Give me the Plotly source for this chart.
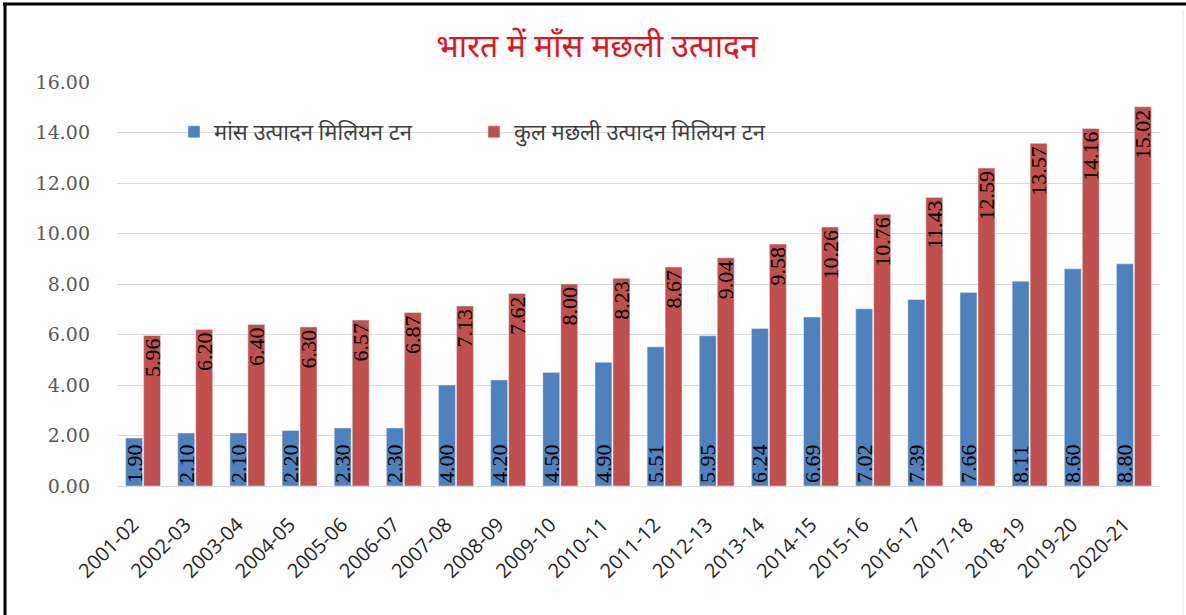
import plotly.graph_objects as go

years = ["2001-02", "2002-03", "2003-04", "2004-05", "2005-06", "2006-07", "2007-08",
         "2008-09", "2009-10", "2010-11", "2011-12", "2012-13", "2013-14", "2014-15",
         "2015-16", "2016-17", "2017-18", "2018-19", "2019-20", "2020-21"]
meat = [1.90, 2.10, 2.10, 2.20, 2.30, 2.30, 4.00, 4.20, 4.50, 4.90, 5.51, 5.95, 6.24,
        6.69, 7.02, 7.39, 7.66, 8.11, 8.60, 8.80]
fish = [5.96, 6.20, 6.40, 6.30, 6.57, 6.87, 7.13, 7.62, 8.00, 8.23, 8.67, 9.04, 9.58,
        10.26, 10.76, 11.43, 12.59, 13.57, 14.16, 15.02]
y_ticks = [0, 2, 4, 6, 8, 10, 12, 14, 16]

title_text = "भारत में माँस मछली उत्पादन"
meat_name = "मांस उत्पादन मिलियन टन"
fish_name = "कुल मछली उत्पादन मिलियन टन"

W, H = 1186, 615
L, R, T, B = 117, 26, 82, 129

label_font = dict(family="Liberation Serif", size=22, color="black")

fig = go.Figure()
fig.add_trace(go.Bar(
    x=years, y=meat, name=meat_name, marker_color="#4f81bd",
    texttemplate="%{y:.2f}", textposition="inside", insidetextanchor="start",
    textangle=-90, textfont=label_font, constraintext="none",
))
fig.add_trace(go.Bar(
    x=years, y=fish, name=fish_name, marker_color="#c0504d",
    texttemplate="%{y:.2f}", textposition="inside", insidetextanchor="end",
    textangle=-90, textfont=label_font, constraintext="none",
))

pw = W - L - R
ph = H - T - B
def px_x(p):
    return (p - L) / pw
def px_y(p):
    return (H - B - p) / ph

fig.update_layout(
    width=W, height=H,
    margin=dict(l=L, r=R, t=T, b=B, autoexpand=False),
    paper_bgcolor="white", plot_bgcolor="white",
    barmode="group", bargap=0.31, bargroupgap=0.06,
    uniformtext=dict(minsize=21, mode="show"),
    title=dict(text=title_text, x=597 / W, xref="container", xanchor="center",
               y=1 - 46 / H, yref="container", yanchor="middle",
               font=dict(family="Noto Sans", size=32, color="#e0141e")),
    legend=dict(orientation="h", x=px_x(174), y=px_y(132), xanchor="left", yanchor="middle",
                bgcolor="rgba(0,0,0,0)", font=dict(family="Noto Sans", size=22, color="#404040"),
                entrywidth=255, entrywidthmode="pixels", itemwidth=30, tracegroupgap=0),
    xaxis=dict(type="category", tickangle=-45,
               tickfont=dict(family="Open Sans", size=20, color="#262626"),
               showgrid=False, showline=True, linecolor="#d9d9d9", linewidth=1,
               ticks="", ticklabelshift=-10, ticklabelstandoff=18),
    yaxis=dict(range=[0, 16], tickvals=y_ticks, tickformat=".2f",
               tickfont=dict(family="DejaVu Serif", size=19, color="#595959"),
               showgrid=True, gridcolor="#d9d9d9", gridwidth=1, zeroline=False,
               showline=False, ticks="", ticklabelstandoff=26),
    shapes=[
        dict(type="line", xref="paper", yref="paper", x0=px_x(3), x1=px_x(1186),
             y0=px_y(4), y1=px_y(4), line=dict(color="black", width=3)),
        dict(type="line", xref="paper", yref="paper", x0=px_x(5), x1=px_x(5),
             y0=px_y(3), y1=px_y(620), line=dict(color="black", width=3)),
        dict(type="line", xref="paper", yref="paper", x0=px_x(1183), x1=px_x(1183),
             y0=px_y(10), y1=px_y(620), line=dict(color="#e6e6e6", width=1)),
    ],
)

fig.write_html("out.html")
